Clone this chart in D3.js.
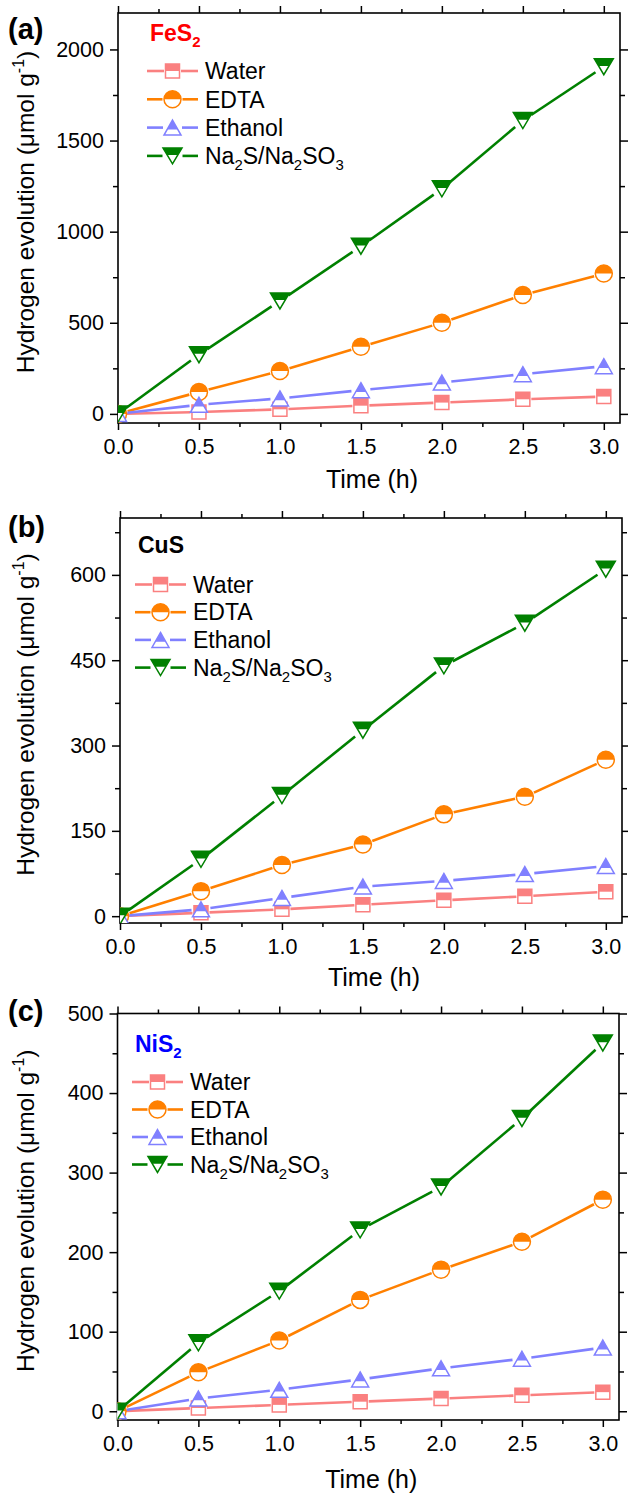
<!DOCTYPE html>
<meta charset="utf-8">
<script src="https://d3js.org/d3.v7.min.js"></script>
<style>
  body { margin: 0; background: #fff; }
  text { font-family: "Liberation Sans", Arial, sans-serif; }
</style>
<div id="chart"></div>
<script>

// ---- data ----
var time = [0, 0.5, 1.0, 1.5, 2.0, 2.5, 3.0];
var xTicks = [0, 0.5, 1.0, 1.5, 2.0, 2.5, 3.0];
var xMinor = [0.25, 0.75, 1.25, 1.75, 2.25, 2.75];

var seriesNames = ["Water", "EDTA", "Ethanol", "Na2S/Na2SO3"];

// (a) FeS2
var fes2Water   = [0, 10, 25, 45, 62, 80, 95];
var fes2Edta    = [0, 120, 235, 368, 500, 652, 770];
var fes2Ethanol = [0, 50, 85, 130, 172, 218, 262];
var fes2Na2S    = [0, 325, 620, 920, 1235, 1610, 1905];
var fes2Ticks   = [0, 500, 1000, 1500, 2000];
var fes2Minor   = [250, 750, 1250, 1750];

// (b) CuS
var cusWater   = [0, 6, 12, 20, 28, 35, 43];
var cusEdta    = [0, 44, 90, 126, 179, 210, 275];
var cusEthanol = [0, 12, 32, 52, 62, 74, 88];
var cusNa2S    = [0, 100, 212, 327, 440, 515, 610];
var cusTicks   = [0, 150, 300, 450, 600];
var cusMinor   = [75, 225, 375, 525, 675];

// (c) NiS2
var nis2Water   = [0, 4, 8, 12, 16, 20, 24];
var nis2Edta    = [0, 49, 89, 140, 178, 213, 266];
var nis2Ethanol = [0, 16, 27, 40, 54, 66, 80];
var nis2Na2S    = [0, 86, 151, 228, 282, 368, 463];
var nis2Ticks   = [0, 100, 200, 300, 400, 500];
var nis2Minor   = [50, 150, 250, 350, 450];

// ---- styles ----
var colors  = ["#fa8080", "#ff8000", "#8080ff", "#008000"];
var symbols = ["square", "circle", "up", "down"];

var W = 628, H = 1494;
var svg = d3.select("#chart").append("svg")
    .attr("width", W).attr("height", H);

var panels = [
  { id: "a", label: "(a)", labelY: 39, name: "FeS", sub: "2", nameColor: "#ff0000",
    series: [fes2Water, fes2Edta, fes2Ethanol, fes2Na2S],
    ticks: fes2Ticks, minor: fes2Minor, yDomain: [-50, 2200],
    left: 118, right: 620, top: 13, bottom: 423, xTitleDy: 65,
    lgX: 147, lgTitleY: 41, lgY: 71, lgStep: 28.3 },
  { id: "b", label: "(b)", labelY: 537, name: "CuS", sub: "", nameColor: "#000000",
    series: [cusWater, cusEdta, cusEthanol, cusNa2S],
    ticks: cusTicks, minor: cusMinor, yDomain: [-12, 700],
    left: 120, right: 622, top: 518, bottom: 923, xTitleDy: 63,
    lgX: 135, lgTitleY: 553, lgY: 584.5, lgStep: 27.7 },
  { id: "c", label: "(c)", labelY: 1021, name: "NiS", sub: "2", nameColor: "#0000ff",
    series: [nis2Water, nis2Edta, nis2Ethanol, nis2Na2S],
    ticks: nis2Ticks, minor: nis2Minor, yDomain: [-11, 500],
    left: 117.5, right: 619, top: 1013.5, bottom: 1420, xTitleDy: 67.5,
    lgX: 132, lgTitleY: 1052, lgY: 1082, lgStep: 27.5 }
];

// draw a half-filled symbol (upper part coloured)
function drawSymbol(g, type, cx, cy, color) {
  var s = g.append("g");
  var top, outline;
  if (type == "square") {
    var h = 7;
    outline = "M" + (cx-h) + "," + (cy-h) + "H" + (cx+h) + "V" + (cy+h) + "H" + (cx-h) + "Z";
    top = "M" + (cx-h) + "," + (cy-h) + "H" + (cx+h) + "V" + cy + "H" + (cx-h) + "Z";
  } else if (type == "circle") {
    var r = 8.5;
    outline = "M" + (cx-r) + "," + cy + "A" + r + "," + r + " 0 1 1 " + (cx+r) + "," + cy +
              "A" + r + "," + r + " 0 1 1 " + (cx-r) + "," + cy + "Z";
    top = "M" + (cx-r) + "," + cy + "A" + r + "," + r + " 0 0 1 " + (cx+r) + "," + cy + "Z";
  } else if (type == "up") {
    var w = 17, ht = 15, f = 0.62;
    var yc = cy - ht/2 + f*ht;
    outline = "M" + cx + "," + (cy-ht/2) + "L" + (cx+w/2) + "," + (cy+ht/2) + "L" + (cx-w/2) + "," + (cy+ht/2) + "Z";
    top = "M" + cx + "," + (cy-ht/2) + "L" + (cx+f*w/2) + "," + yc + "L" + (cx-f*w/2) + "," + yc + "Z";
  } else {
    var w2 = 19, ht2 = 16, f2 = 0.45;
    var yc2 = cy - ht2/2 + f2*ht2;
    outline = "M" + (cx-w2/2) + "," + (cy-ht2/2) + "L" + (cx+w2/2) + "," + (cy-ht2/2) + "L" + cx + "," + (cy+ht2/2) + "Z";
    top = "M" + (cx-w2/2) + "," + (cy-ht2/2) + "L" + (cx+w2/2) + "," + (cy-ht2/2) +
          "L" + (cx+(1-f2)*w2/2) + "," + yc2 + "L" + (cx-(1-f2)*w2/2) + "," + yc2 + "Z";
  }
  s.append("path").attr("d", outline).attr("fill", "#fff");
  s.append("path").attr("d", top).attr("fill", color);
  s.append("path").attr("d", outline).attr("fill", "none")
    .attr("stroke", color).attr("stroke-width", 1.5);
}

var gaps = { square: 8.5, circle: 10, up: 9.5, down: 10 };

// legend entry name with numeric subscripts
function addRich(t, str, size) {
  var parts = str.match(/[A-Za-z\/]+|\d/g);
  var shift = 0;
  parts.forEach(function(p) {
    if (/\d/.test(p)) {
      t.append("tspan").attr("font-size", size * 0.65).attr("dy", 6 - shift).text(p);
      shift = 6;
    } else {
      t.append("tspan").attr("font-size", size).attr("dy", -shift).text(p);
      shift = 0;
    }
  });
}

panels.forEach(function(p) {
  var x = d3.scaleLinear().domain([0, 3.1]).range([p.left, p.right]);
  var y = d3.scaleLinear().domain(p.yDomain).range([p.bottom, p.top]);
  var g = svg.append("g");

  // clip region = frame
  svg.append("clipPath").attr("id", "clip-" + p.id)
    .append("rect").attr("x", p.left).attr("y", p.top)
    .attr("width", p.right - p.left).attr("height", p.bottom - p.top);

  // axes: major + minor, mirrored on all four sides, outward ticks
  function axisStyle(sel) {
    sel.select(".domain").remove();
    sel.selectAll(".tick line").attr("stroke", "#000").attr("stroke-width", 1.5);
    sel.selectAll(".tick text").attr("fill", "#000").attr("font-size", 21.5)
      .style("font-family", '"Liberation Sans", Arial, sans-serif');
  }
  g.append("g").attr("transform", "translate(0," + p.bottom + ")")
    .call(d3.axisBottom(x).tickValues(xTicks).tickSize(7).tickPadding(8.5)
      .tickFormat(d3.format(".1f"))).call(axisStyle);
  g.append("g").attr("transform", "translate(0," + p.bottom + ")")
    .call(d3.axisBottom(x).tickValues(xMinor).tickSize(4).tickFormat("")).call(axisStyle);
  g.append("g").attr("transform", "translate(0," + p.top + ")")
    .call(d3.axisTop(x).tickValues(xTicks).tickSize(7).tickFormat("")).call(axisStyle);
  g.append("g").attr("transform", "translate(0," + p.top + ")")
    .call(d3.axisTop(x).tickValues(xMinor).tickSize(4).tickFormat("")).call(axisStyle);
  g.append("g").attr("transform", "translate(" + p.left + ",0)")
    .call(d3.axisLeft(y).tickValues(p.ticks).tickSize(8).tickPadding(6)
      .tickFormat(d3.format("d"))).call(axisStyle);
  g.append("g").attr("transform", "translate(" + p.left + ",0)")
    .call(d3.axisLeft(y).tickValues(p.minor).tickSize(5).tickFormat("")).call(axisStyle);
  g.append("g").attr("transform", "translate(" + p.right + ",0)")
    .call(d3.axisRight(y).tickValues(p.ticks).tickSize(8).tickFormat("")).call(axisStyle);
  g.append("g").attr("transform", "translate(" + p.right + ",0)")
    .call(d3.axisRight(y).tickValues(p.minor).tickSize(5).tickFormat("")).call(axisStyle);

  // frame
  g.append("rect").attr("x", p.left).attr("y", p.top)
    .attr("width", p.right - p.left).attr("height", p.bottom - p.top)
    .attr("fill", "none").attr("stroke", "#000").attr("stroke-width", 1.6);

  // data
  var plot = g.append("g").attr("clip-path", "url(#clip-" + p.id + ")");
  p.series.forEach(function(vals, si) {
    var pts = time.map(function(t, i) { return [x(t), y(vals[i])]; });
    var gap = gaps[symbols[si]];
    for (var i = 0; i < pts.length - 1; i++) {
      var a = pts[i], b = pts[i + 1];
      var dx = b[0] - a[0], dy = b[1] - a[1], len = Math.sqrt(dx*dx + dy*dy);
      var ux = dx / len, uy = dy / len;
      plot.append("line")
        .attr("x1", a[0] + ux * gap).attr("y1", a[1] + uy * gap)
        .attr("x2", b[0] - ux * gap).attr("y2", b[1] - uy * gap)
        .attr("stroke", colors[si]).attr("stroke-width", 2.6);
    }
    pts.forEach(function(pt) { drawSymbol(plot, symbols[si], pt[0], pt[1], colors[si]); });
  });

  // legend
  var nm = g.append("text").attr("x", p.lgX + 3).attr("y", p.lgTitleY)
    .attr("font-weight", "bold").attr("font-size", 23).attr("fill", p.nameColor);
  nm.append("tspan").text(p.name);
  if (p.sub) nm.append("tspan").attr("font-size", 15).attr("dy", 6).text(p.sub);

  seriesNames.forEach(function(s, si) {
    var cy = p.lgY + si * p.lgStep;
    var x1 = p.lgX, x2 = p.lgX + 51, mx = p.lgX + 25.5, gap = gaps[symbols[si]];
    g.append("line").attr("x1", x1).attr("x2", mx - gap).attr("y1", cy).attr("y2", cy)
      .attr("stroke", colors[si]).attr("stroke-width", 2.6);
    g.append("line").attr("x1", mx + gap).attr("x2", x2).attr("y1", cy).attr("y2", cy)
      .attr("stroke", colors[si]).attr("stroke-width", 2.6);
    drawSymbol(g, symbols[si], mx, cy, colors[si]);
    var t = g.append("text").attr("x", x2 + 7).attr("y", cy + 8.2).attr("fill", "#000");
    addRich(t, s, 23);
  });

  // panel label
  g.append("text").attr("x", 8).attr("y", p.labelY)
    .attr("font-weight", "bold").attr("font-size", 29).text(p.label);

  // axis titles
  g.append("text").attr("x", (p.left + p.right) / 2 + 3).attr("y", p.bottom + p.xTitleDy)
    .attr("text-anchor", "middle").attr("font-size", 25).text("Time (h)");

  var yt = g.append("text")
    .attr("transform", "translate(34," + ((p.top + p.bottom) / 2 - 6) + ") rotate(-90)")
    .attr("text-anchor", "middle").attr("font-size", 24.5);
  yt.append("tspan").text("Hydrogen evolution (\u03bcmol g");
  yt.append("tspan").attr("font-size", 16).attr("dy", -10).text("-1");
  yt.append("tspan").attr("dy", 10).text(")");
});

</script>
